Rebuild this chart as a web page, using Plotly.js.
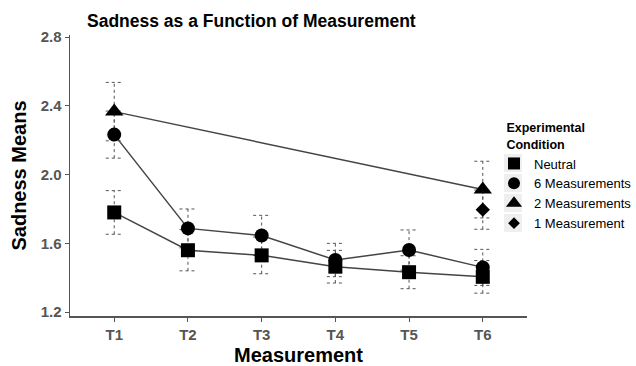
<!DOCTYPE html>
<html>
<head>
<meta charset="utf-8">
<script src="https://cdn.plot.ly/plotly-3.0.1.min.js"></script>
<style>html,body{margin:0;padding:0;background:#fff;}#chart{width:636px;height:366px;}</style>
</head>
<body>
<div id="chart"></div>
<script>
var categories = ['T1', 'T2', 'T3', 'T4', 'T5', 'T6'];
var neutralMean = [1.78, 1.56, 1.53, 1.464, 1.432, 1.405];
var neutralErr  = [0.127, 0.12, 0.107, 0.095, 0.096, 0.095];
var sixMean = [2.233, 1.687, 1.646, 1.503, 1.561, 1.46];
var sixErr  = [0.137, 0.113, 0.117, 0.097, 0.117, 0.105];
var twoCats = ['T1', 'T6'];
var twoMean = [2.367, 1.913];
var twoErr  = [0.17, 0.165];
var oneCats = ['T6'];
var oneMean = [1.796];
var oneErr  = [0.114];

var seriesNames = ['Neutral', '6 Measurements', '2 Measurements', '1 Measurement'];
var symbols = ['square', 'circle', 'triangle-up', 'diamond'];
var sizes = [14, 14, 16, 11];

function idx(cats) { return cats.map(function (c) { return categories.indexOf(c); }); }

var series = [
  {x: idx(categories), y: neutralMean, e: neutralErr},
  {x: idx(categories), y: sixMean, e: sixErr},
  {x: idx(twoCats), y: twoMean, e: twoErr},
  {x: idx(oneCats), y: oneMean, e: oneErr}
];

var cap = 0.115;
var traces = [];
// error bars (dotted)
series.forEach(function (s) {
  var ex = [], ey = [];
  s.x.forEach(function (xi, k) {
    var lo = s.y[k] - s.e[k], hi = s.y[k] + s.e[k];
    ex.push(xi, xi, null, xi - cap, xi + cap, null, xi - cap, xi + cap, null);
    ey.push(lo, hi, null, lo, lo, null, hi, hi, null);
  });
  traces.push({x: ex, y: ey, mode: 'lines', showlegend: false, hoverinfo: 'skip',
    line: {color: '#555', width: 1, dash: 'dot'}});
});
// lines + markers
series.forEach(function (s, i) {
  traces.push({x: s.x, y: s.y, mode: 'lines+markers', showlegend: false,
    line: {color: '#444', width: 1.5},
    marker: {symbol: symbols[i], size: sizes[i], color: '#000'}});
});
// legend entries
series.forEach(function (s, i) {
  traces.push({x: [null], y: [null], mode: 'markers', name: seriesNames[i], showlegend: true,
    marker: {symbol: symbols[i], size: sizes[i] - 2, color: '#000'}});
});

// plot area in pixels (for decoration placement)
var L = 70, R = 527, T = 35, B = 316;
function px2x(p) { return (p - L) / (R - L); }
function px2y(p) { return (B - p) / (B - T); }

var keyShapes = [163, 183, 203, 223].map(function (cy) {
  return {type: 'rect', xref: 'paper', yref: 'paper',
    x0: px2x(504), x1: px2x(522), y0: px2y(cy + 9), y1: px2y(cy - 9),
    fillcolor: '#efefef', line: {width: 0}, layer: 'below'};
});

var layout = {
  width: 636, height: 366,
  margin: {l: L, r: 636 - R, t: T, b: 366 - B, autoexpand: false},
  paper_bgcolor: '#fff', plot_bgcolor: '#fff',
  font: {family: 'Liberation Sans, Arial, sans-serif', color: '#000'},
  title: {text: '<b>Sadness as a Function of Measurement</b>', x: 87 / 636, xanchor: 'left',
    y: 1 - 21 / 366, yanchor: 'middle', font: {size: 17.5, color: '#000'}},
  xaxis: {
    range: [-0.6, 5.6], tickvals: [0, 1, 2, 3, 4, 5], ticktext: categories,
    showgrid: false, zeroline: false, showline: true, linecolor: '#555', linewidth: 1.5,
    ticks: 'outside', ticklen: 4, tickcolor: '#555',
    tickfont: {size: 15, color: '#555', family: 'Liberation Sans, Arial, sans-serif', weight: 'bold'},
    title: {text: '<b>Measurement</b>', font: {size: 20, color: '#000'}, standoff: 7}
  },
  yaxis: {
    range: [1.177, 2.813], tickvals: [1.2, 1.6, 2.0, 2.4, 2.8], ticktext: ['1.2', '1.6', '2.0', '2.4', '2.8'],
    showgrid: false, zeroline: false, showline: true, linecolor: '#555', linewidth: 1.5,
    ticks: 'outside', ticklen: 4, tickcolor: '#555',
    tickfont: {size: 15, color: '#555', family: 'Liberation Sans, Arial, sans-serif', weight: 'bold'},
    title: {text: '<b>Sadness Means</b>', font: {size: 20, color: '#000'}, standoff: 8}
  },
  legend: {
    x: px2x(494), y: px2y(116), xanchor: 'left', yanchor: 'top',
    bgcolor: 'rgba(0,0,0,0)',
    font: {size: 13, color: '#000'},
    title: {text: '<b>&nbsp;&nbsp;&nbsp;Experimental<br>&nbsp;&nbsp;&nbsp;Condition</b>', font: {size: 12.5, color: '#000'}},
    itemwidth: 30, tracegroupgap: 0
  },
  shapes: keyShapes
};

Plotly.newPlot('chart', traces, layout, {displayModeBar: false, staticPlot: true});
</script>
</body>
</html>
